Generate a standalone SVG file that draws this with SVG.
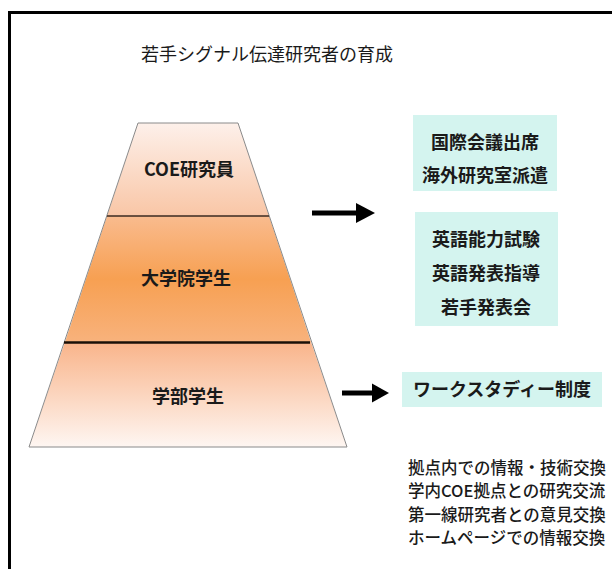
<svg xmlns="http://www.w3.org/2000/svg" width="612" height="569" viewBox="0 0 612 569">
<style>
text{font-family:"Noto Sans CJK JP","Liberation Sans",sans-serif;fill:#1a1a1a;}
.title{font-size:18px;text-anchor:middle;}
.lvl{font-size:18px;font-weight:bold;text-anchor:middle;}
.box{fill:#d4f4ef;}
.bt{font-size:18px;font-weight:bold;text-anchor:middle;}
.note{font-size:16.5px;font-weight:500;}
.edge{fill:none;stroke:#8a8a8a;stroke-width:1;}
</style>
<defs>
<linearGradient id="gTop" x1="0" y1="0" x2="0" y2="1">
<stop offset="0" stop-color="#fdf0ea"/>
<stop offset="1" stop-color="#f9c6a6"/>
</linearGradient>
<linearGradient id="gMid" x1="0" y1="0" x2="0" y2="1">
<stop offset="0" stop-color="#f9bb8e"/>
<stop offset="0.5" stop-color="#f7a052"/>
<stop offset="1" stop-color="#f8b27c"/>
</linearGradient>
<linearGradient id="gBot" x1="0" y1="0" x2="0" y2="1">
<stop offset="0" stop-color="#f9b48a"/>
<stop offset="1" stop-color="#fef6f2"/>
</linearGradient>
</defs>
<rect width="612" height="569" fill="#ffffff"/>
<path d="M9.5 569 V12.5 H612" fill="none" stroke="#000" stroke-width="3"/>
<text class="title" x="267" y="61">若手シグナル伝達研究者の育成</text>
<g id="pyramid">
<g id="level-coe">
<polygon points="138,123 238,123 269,216 107,216" fill="url(#gTop)"/>
<text class="lvl" x="189" y="176">COE研究員</text>
</g>
<g id="level-grad">
<polygon points="107,216 269,216 311,342 65,342" fill="url(#gMid)"/>
<text class="lvl" x="186" y="285">大学院学生</text>
</g>
<g id="level-under">
<polygon points="65,342 311,342 347,447 29,447" fill="url(#gBot)"/>
<text class="lvl" x="188" y="403">学部学生</text>
</g>
<polygon class="edge" points="138,123 238,123 347,447 29,447"/>
<line x1="107" y1="216" x2="269" y2="216" stroke="#3a2a20" stroke-width="1.5"/>
<line x1="64" y1="342.5" x2="310" y2="342.5" stroke="#1a1008" stroke-width="2.5"/>
</g>
<g id="box-intl">
<rect class="box" x="413" y="115" width="144" height="76"/>
<text class="bt" x="485" y="149">国際会議出席</text>
<text class="bt" x="485" y="182">海外研究室派遣</text>
</g>
<g id="box-english">
<rect class="box" x="415" y="212" width="143" height="114"/>
<text class="bt" x="486" y="246">英語能力試験</text>
<text class="bt" x="486" y="280">英語発表指導</text>
<text class="bt" x="486" y="314">若手発表会</text>
</g>
<g id="box-work">
<rect class="box" x="402" y="372" width="200" height="35"/>
<text class="bt" x="502" y="396">ワークスタディー制度</text>
</g>
<g id="notes">
<text class="note" x="408" y="474">拠点内での情報・技術交換</text>
<text class="note" x="408" y="497">学内COE拠点との研究交流</text>
<text class="note" x="408" y="521">第一線研究者との意見交換</text>
<text class="note" x="408" y="544">ホームページでの情報交換</text>
</g>
<g id="connectors">
<line x1="312" y1="213" x2="359" y2="213" stroke="#000" stroke-width="5"/>
<polygon points="356,203 375,213 356,223" fill="#000"/>
<line x1="342" y1="393" x2="374" y2="393" stroke="#000" stroke-width="5"/>
<polygon points="372,383.5 389,393 372,402.5" fill="#000"/>
</g>
</svg>
